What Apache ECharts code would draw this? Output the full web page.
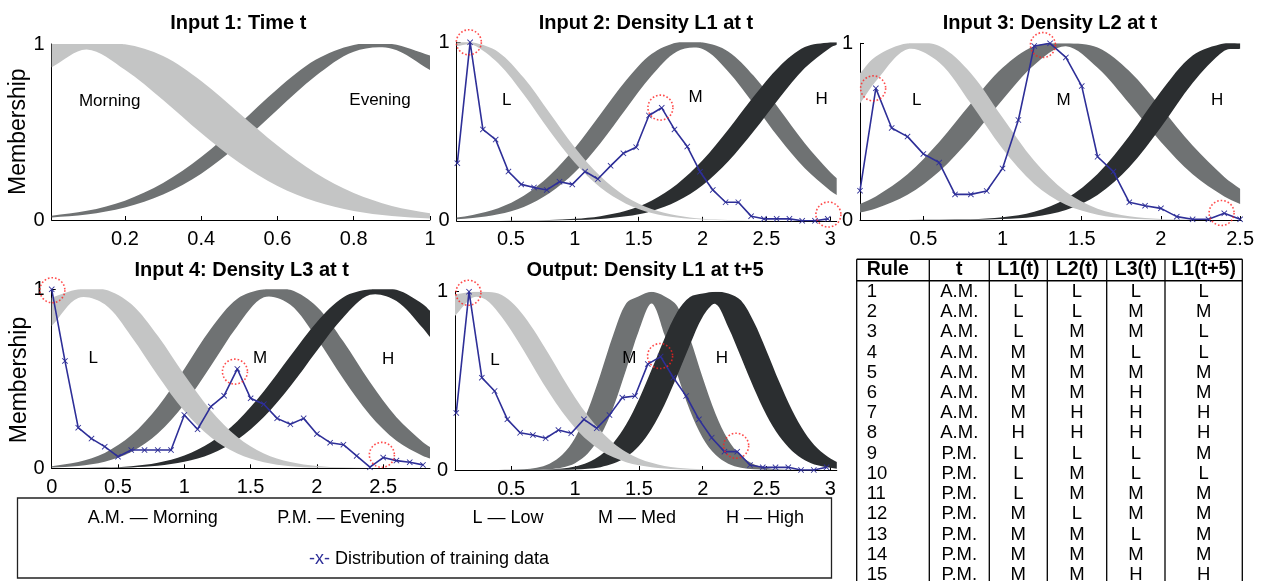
<!DOCTYPE html>
<html>
<head>
<meta charset="utf-8">
<script src="https://cdn.jsdelivr.net/npm/echarts@6/dist/echarts.min.js"></script>
<style>
  html, body { margin: 0; padding: 0; background: #fff; }
  #main { width: 1263px; height: 581px; }
</style>
</head>
<body>
<div id="main"></div>
<script>
// ---- membership bands (upper / lower edge) ----
var in1X = [0.008, 0.1, 0.2, 0.3, 0.4, 0.5, 0.6, 0.7, 0.8, 0.9, 1.0];
var in1MorningUp = [1, 1, 0.998, 0.932, 0.79, 0.607, 0.423, 0.267, 0.153, 0.08, 0.038];
var in1MorningLo = [0.868, 0.969, 0.854, 0.682, 0.494, 0.325, 0.193, 0.105, 0.051, 0.023, 0.009];
var in1EveningUp = [0.024, 0.052, 0.11, 0.21, 0.358, 0.546, 0.745, 0.91, 0.995, 1, 0.935];
var in1EveningLo = [0.014, 0.031, 0.071, 0.145, 0.263, 0.43, 0.627, 0.818, 0.956, 0.973, 0.852];

var in2X = [0.075, 0.2, 0.4, 0.6, 0.8, 1.0, 1.2, 1.4, 1.6, 1.8, 2.0, 2.2, 2.4, 2.6, 2.8, 3.0, 3.05];
var in2LUp = [1, 1, 0.946, 0.801, 0.607, 0.411, 0.249, 0.135, 0.066, 0.029, 0.011, 0.004, 0.001, 0, 0, 0, 0];
var in2LLo = [0.979, 0.986, 0.882, 0.707, 0.506, 0.325, 0.186, 0.096, 0.044, 0.018, 0.007, 0.002, 0, 0, 0, 0, 0];
var in2MUp = [0.018, 0.032, 0.07, 0.14, 0.252, 0.408, 0.597, 0.786, 0.934, 0.999, 1, 0.949, 0.812, 0.626, 0.435, 0.272, 0.238];
var in2MLo = [0.008, 0.015, 0.036, 0.078, 0.154, 0.272, 0.435, 0.626, 0.812, 0.949, 0.963, 0.837, 0.655, 0.462, 0.294, 0.169, 0.144];
var in2HUp = [0, 0, 0, 0.001, 0.004, 0.011, 0.026, 0.056, 0.113, 0.205, 0.339, 0.51, 0.696, 0.863, 0.973, 1, 1];
var in2HLo = [0, 0, 0, 0, 0.001, 0.004, 0.01, 0.025, 0.054, 0.109, 0.199, 0.332, 0.501, 0.687, 0.856, 0.97, 0.986];

var in3X = [0.1, 0.2, 0.4, 0.6, 0.8, 1.0, 1.2, 1.4, 1.6, 1.8, 2.0, 2.2, 2.4, 2.5];
var in3LUp = [0.831, 0.926, 1, 0.985, 0.831, 0.58, 0.335, 0.16, 0.064, 0.021, 0.006, 0.001, 0, 0];
var in3LLo = [0.659, 0.785, 0.967, 0.892, 0.659, 0.403, 0.204, 0.086, 0.03, 0.009, 0.002, 0, 0, 0];
var in3MUp = [0.091, 0.133, 0.259, 0.442, 0.659, 0.861, 0.983, 1, 0.976, 0.843, 0.637, 0.421, 0.244, 0.177];
var in3MLo = [0.042, 0.065, 0.143, 0.275, 0.463, 0.681, 0.877, 0.983, 0.861, 0.659, 0.442, 0.259, 0.133, 0.091];
var in3HUp = [0, 0, 0, 0.001, 0.004, 0.015, 0.046, 0.12, 0.261, 0.476, 0.727, 0.931, 1, 1];
var in3HLo = [0, 0, 0, 0, 0.001, 0.005, 0.019, 0.057, 0.142, 0.298, 0.525, 0.775, 0.958, 0.969];

var in4X = [0, 0.2, 0.4, 0.6, 0.8, 1.0, 1.2, 1.4, 1.6, 1.8, 2.0, 2.2, 2.4, 2.6, 2.8, 2.853];
var in4LUp = [0.953, 1, 0.999, 0.918, 0.74, 0.522, 0.323, 0.175, 0.083, 0.035, 0.013, 0.004, 0.001, 0, 0, 0];
var in4LLo = [0.795, 0.952, 0.916, 0.737, 0.519, 0.32, 0.173, 0.082, 0.034, 0.012, 0.004, 0.001, 0, 0, 0, 0];
var in4MUp = [0.012, 0.035, 0.086, 0.184, 0.343, 0.555, 0.779, 0.947, 1, 0.997, 0.903, 0.708, 0.482, 0.285, 0.146, 0.119];
var in4MLo = [0.004, 0.013, 0.037, 0.091, 0.194, 0.358, 0.572, 0.794, 0.955, 0.914, 0.725, 0.499, 0.298, 0.154, 0.069, 0.055];
var in4HUp = [0, 0.001, 0.004, 0.012, 0.031, 0.071, 0.145, 0.263, 0.43, 0.627, 0.818, 0.956, 1, 0.997, 0.917, 0.88];
var in4HLo = [0, 0, 0.002, 0.005, 0.014, 0.036, 0.08, 0.159, 0.286, 0.458, 0.657, 0.844, 0.969, 0.935, 0.783, 0.733];

var outX = [0.06, 0.2, 0.3, 0.4, 0.5, 0.6, 0.7, 0.8, 0.9, 1.0, 1.1, 1.2, 1.3, 1.4, 1.5, 1.6, 1.7, 1.8, 1.9, 2.0,
            2.1, 2.2, 2.3, 2.4, 2.5, 2.6, 2.7, 2.8, 2.9, 3.0, 3.05];
var outLUp = [0.984, 1, 1, 0.99, 0.944, 0.864, 0.76, 0.643, 0.522, 0.407, 0.305, 0.22, 0.152, 0.101, 0.065, 0.04, 0.023, 0.013, 0.007, 0.004,
              0.002, 0.001, 0, 0, 0, 0, 0, 0, 0, 0, 0];
var outLLo = [0.864, 0.967, 0.956, 0.882, 0.783, 0.667, 0.546, 0.43, 0.325, 0.236, 0.165, 0.11, 0.071, 0.044, 0.026, 0.015, 0.008, 0.004, 0.002, 0.001,
              0, 0, 0, 0, 0, 0, 0, 0, 0, 0, 0];
var outMUp = [0, 0, 0, 0, 0.001, 0.004, 0.012, 0.035, 0.085, 0.18, 0.334, 0.539, 0.76, 0.934, 0.975, 1, 0.975, 0.92, 0.739, 0.517,
              0.316, 0.168, 0.078, 0.032, 0.011, 0.003, 0.001, 0, 0, 0, 0];
var outMLo = [0, 0, 0, 0, 0, 0, 0.001, 0.004, 0.014, 0.038, 0.092, 0.193, 0.352, 0.562, 0.781, 0.934, 0.76, 0.539, 0.334, 0.18,
              0.085, 0.035, 0.012, 0.004, 0.001, 0, 0, 0, 0, 0, 0];
var outHUp = [0, 0, 0, 0, 0, 0, 0.001, 0.003, 0.008, 0.019, 0.042, 0.083, 0.152, 0.255, 0.395, 0.563, 0.736, 0.886, 0.97, 0.99,
              1, 0.99, 0.95, 0.831, 0.668, 0.493, 0.335, 0.209, 0.12, 0.064, 0.045];
var outHLo = [0, 0, 0, 0, 0, 0, 0, 0, 0.001, 0.003, 0.007, 0.016, 0.036, 0.073, 0.135, 0.232, 0.365, 0.528, 0.702, 0.859,
              0.931, 0.801, 0.633, 0.46, 0.307, 0.189, 0.107, 0.055, 0.026, 0.012, 0.007];

// ---- distribution of training data ----
var in2TrainX = [0.08, 0.18, 0.28, 0.38, 0.48, 0.58, 0.68, 0.78, 0.88, 0.98, 1.08, 1.18, 1.28, 1.38, 1.48,
                 1.58, 1.68, 1.78, 1.88, 1.98, 2.08, 2.18, 2.28, 2.38, 2.48, 2.58, 2.68, 2.78, 2.88, 2.98];
var in2TrainY = [0.323, 1.0, 0.512, 0.455, 0.276, 0.204, 0.187, 0.173, 0.219, 0.204, 0.276, 0.234, 0.308, 0.378, 0.412,
                 0.59, 0.633, 0.512, 0.416, 0.275, 0.173, 0.104, 0.104, 0.026, 0.011, 0.011, 0.011, 0, 0, 0.011];
var in3TrainX = [0.1, 0.2, 0.3, 0.4, 0.5, 0.6, 0.7, 0.8, 0.9, 1.0, 1.1, 1.2, 1.3, 1.4, 1.5, 1.6, 1.7, 1.8, 1.9, 2.0,
                 2.1, 2.2, 2.3, 2.4, 2.5];
var in3TrainY = [0.166, 0.745, 0.521, 0.472, 0.374, 0.325, 0.145, 0.145, 0.164, 0.292, 0.566, 0.985, 1.0, 0.92, 0.758,
                 0.358, 0.274, 0.1, 0.081, 0.066, 0.019, 0.004, 0.004, 0.038, 0.004];
var in4TrainX = [0, 0.1, 0.2, 0.3, 0.4, 0.5, 0.6, 0.7, 0.8, 0.9, 1.0, 1.1, 1.2, 1.3, 1.4, 1.5, 1.6, 1.7, 1.8, 1.9,
                 2.0, 2.1, 2.2, 2.3, 2.4, 2.5, 2.6, 2.7, 2.8];
var in4TrainY = [1.0, 0.6, 0.227, 0.166, 0.121, 0.065, 0.102, 0.102, 0.102, 0.102, 0.298, 0.218, 0.345, 0.406, 0.555,
                 0.391, 0.358, 0.279, 0.246, 0.279, 0.192, 0.143, 0.132, 0.069, 0.006, 0.06, 0.043, 0.034, 0.019];
var outTrainX = [0.07, 0.17, 0.27, 0.37, 0.47, 0.57, 0.67, 0.77, 0.87, 0.97, 1.07, 1.17, 1.27, 1.37, 1.47,
                 1.57, 1.67, 1.77, 1.87, 1.97, 2.07, 2.17, 2.27, 2.37, 2.47, 2.57, 2.67, 2.77, 2.87, 2.97];
var outTrainY = [0.32, 1.0, 0.518, 0.443, 0.284, 0.209, 0.196, 0.178, 0.224, 0.206, 0.284, 0.234, 0.308, 0.406, 0.415,
                 0.594, 0.636, 0.518, 0.415, 0.284, 0.181, 0.103, 0.103, 0.028, 0.015, 0.015, 0.015, 0, 0, 0.015];

// red dotted circles (centre x, y)
var in2Circles = [[0.17, 1.0], [1.67, 0.634], [2.985, 0.035]];
var in3Circles = [[0.183, 0.745], [1.255, 0.99], [2.383, 0.04]];
var in4Circles = [[0.005, 0.995], [1.382, 0.54], [2.49, 0.075]];
var outCircles = [[0.165, 0.994], [1.666, 0.639], [2.262, 0.136]];

// in-plot set names
var in1Names = [['Morning', 0.16, 0.672], ['Evening', 0.869, 0.68]];
var in2Names = [['L', 0.466, 0.675], ['M', 1.946, 0.69], ['H', 2.933, 0.68]];
var in3Names = [['L', 0.458, 0.68], ['M', 1.385, 0.68], ['H', 2.355, 0.68]];
var in4Names = [['L', 0.314, 0.615], ['M', 1.571, 0.615], ['H', 2.538, 0.609]];
var outNames = [['L', 0.374, 0.617], ['M', 1.426, 0.626], ['H', 2.15, 0.626]];

// rule base
var ruleNo = ['1', '2', '3', '4', '5', '6', '7', '8', '9', '10', '11', '12', '13', '14', '15'];
var ruleT = ['A.M.', 'A.M.', 'A.M.', 'A.M.', 'A.M.', 'A.M.', 'A.M.', 'A.M.', 'P.M.', 'P.M.', 'P.M.', 'P.M.', 'P.M.', 'P.M.', 'P.M.'];
var ruleL1 = ['L', 'L', 'L', 'M', 'M', 'M', 'M', 'H', 'L', 'L', 'L', 'M', 'M', 'M', 'M'];
var ruleL2 = ['L', 'L', 'M', 'M', 'M', 'M', 'H', 'H', 'L', 'M', 'M', 'L', 'M', 'M', 'M'];
var ruleL3 = ['L', 'M', 'M', 'L', 'M', 'H', 'H', 'H', 'L', 'L', 'M', 'M', 'L', 'M', 'H'];
var ruleOut = ['L', 'M', 'L', 'L', 'M', 'M', 'H', 'H', 'M', 'L', 'M', 'M', 'M', 'M', 'H'];
var ruleHead = ['Rule', 't', 'L1(t)', 'L2(t)', 'L3(t)', 'L1(t+5)'];

var legendItems = ['A.M. \u2014 Morning', 'P.M. \u2014 Evening', 'L \u2014 Low', 'M \u2014 Med', 'H \u2014 High'];

// ---- styling ----
var LIGHT = '#c4c5c5', MID = '#6f7273', DARK = '#2b2e30', BLUE = '#2e2f98', RED = '#ff1f1f';
var FONT = "'Liberation Sans', Arial, Helvetica, sans-serif";
var XSYM = 'path://M1,0L5,4L9,0L10,1L6,5L10,9L9,10L5,6L1,10L0,9L4,5L0,1Z';

var grids = [
  { left: 51.7, top: 44, width: 378.3, height: 176 },
  { left: 456.7, top: 42.3, width: 380, height: 178.5 },
  { left: 860, top: 43.3, width: 381.7, height: 176.7 },
  { left: 51.7, top: 289.3, width: 378.3, height: 179 },
  { left: 455, top: 291.7, width: 381.8, height: 178.3 }
];
var xRange = [[0.008, 1], [0.075, 3.05], [0.1, 2.51], [0, 2.853], [0.06, 3.05]];
var xTicks = [[0.2, 0.4, 0.6, 0.8, 1], [0.5, 1, 1.5, 2, 2.5, 3], [0.5, 1, 1.5, 2, 2.5],
              [0, 0.5, 1, 1.5, 2, 2.5], [0.5, 1, 1.5, 2, 2.5, 3]];

// bands listed bottom to top: M under H, L on top
var panels = [
  { x: in1X, bands: [[in1EveningUp, in1EveningLo, MID], [in1MorningUp, in1MorningLo, LIGHT]], names: in1Names },
  { x: in2X, bands: [[in2MUp, in2MLo, MID], [in2HUp, in2HLo, DARK], [in2LUp, in2LLo, LIGHT]],
    tx: in2TrainX, ty: in2TrainY, circles: in2Circles, names: in2Names },
  { x: in3X, bands: [[in3MUp, in3MLo, MID], [in3HUp, in3HLo, DARK], [in3LUp, in3LLo, LIGHT]],
    tx: in3TrainX, ty: in3TrainY, circles: in3Circles, names: in3Names },
  { x: in4X, bands: [[in4MUp, in4MLo, MID], [in4HUp, in4HLo, DARK], [in4LUp, in4LLo, LIGHT]],
    tx: in4TrainX, ty: in4TrainY, circles: in4Circles, names: in4Names },
  { x: outX, bands: [[outMUp, outMLo, MID], [outHUp, outHLo, DARK], [outLUp, outLLo, LIGHT]],
    tx: outTrainX, ty: outTrainY, circles: outCircles, names: outNames }
];

function bandSeries(gi, xs, up, lo, color, z) {
  return {
    type: 'custom', xAxisIndex: gi, yAxisIndex: gi, z: z, silent: true, clip: true,
    data: [[xs[0], lo[0]]],
    renderItem: function (params, api) {
      var n = xs.length, pts = [];
      var first = api.coord([xs[0], up[0]]);
      pts.push(first, first);
      for (var i = 1; i < n; i++) pts.push(api.coord([xs[i], up[i]]));
      pts.push(api.coord([xs[n - 1], up[n - 1]]));
      var last = api.coord([xs[n - 1], lo[n - 1]]);
      pts.push(last, last);
      for (var j = n - 2; j >= 0; j--) pts.push(api.coord([xs[j], lo[j]]));
      pts.push(api.coord([xs[0], lo[0]]));
      return { type: 'polygon', shape: { points: pts, smooth: 0.33 }, style: { fill: color } };
    }
  };
}

var series = [];
panels.forEach(function (p, gi) {
  p.bands.forEach(function (b, k) {
    series.push(bandSeries(gi, p.x, b[0], b[1], b[2], 1 + k));
  });
  if (p.tx) {
    series.push({
      type: 'line', xAxisIndex: gi, yAxisIndex: gi, z: 6, silent: true,
      data: p.tx.map(function (x, k) { return [x, p.ty[k]]; }),
      symbol: XSYM, symbolSize: 6, showSymbol: true,
      lineStyle: { color: BLUE, width: 1.6 },
      itemStyle: { color: BLUE }
    });
    series.push({
      type: 'scatter', xAxisIndex: gi, yAxisIndex: gi, z: 7, silent: true,
      data: p.circles, symbol: 'circle', symbolSize: 25,
      itemStyle: { color: 'rgba(0,0,0,0)', borderColor: RED, borderWidth: 1.6, borderType: [1.6, 2] }
    });
  }
  series.push({
    type: 'scatter', xAxisIndex: gi, yAxisIndex: gi, z: 8, silent: true,
    symbolSize: 1, itemStyle: { color: 'rgba(0,0,0,0)' },
    data: p.names.map(function (d) { return { name: d[0], value: [d[1], d[2]] }; }),
    label: {
      show: true, position: 'inside', formatter: '{b}', color: '#000', fontSize: 17, fontFamily: FONT,
      textBorderWidth: 0, textBorderColor: 'transparent', opacity: 1
    }
  });
});

var xAxes = grids.map(function (g, i) {
  return {
    type: 'value', gridIndex: i, min: xRange[i][0], max: xRange[i][1],
    axisLine: { show: true, onZero: false, lineStyle: { color: '#000', width: 1 } },
    axisTick: { show: true, inside: true, length: 4, customValues: xTicks[i], lineStyle: { color: '#000' } },
    axisLabel: { show: true, customValues: xTicks[i], fontSize: 20, color: '#000', fontFamily: FONT, margin: 9 },
    splitLine: { show: false }
  };
});
var yAxes = grids.map(function (g, i) {
  return {
    type: 'value', gridIndex: i, min: 0, max: 1,
    axisLine: { show: true, onZero: false, lineStyle: { color: '#000', width: 1 } },
    axisTick: { show: true, inside: true, length: 4, customValues: [0, 1], lineStyle: { color: '#000' } },
    axisLabel: { show: true, customValues: [0, 1], fontSize: 20, color: '#000', fontFamily: FONT, margin: 7 },
    splitLine: { show: false }
  };
});

// ---- titles, axis names, legend box, rule table ----
var graphics = [];
function text(x, y, s, o) {
  o = o || {};
  graphics.push({
    type: 'text', x: x, y: y, rotation: o.rot || 0, z: 20, silent: true,
    style: {
      text: s, fill: o.color || '#000', fontSize: o.size || 20, fontWeight: o.bold ? 'bold' : 'normal',
      fontFamily: FONT, align: o.align || 'center', verticalAlign: 'middle', rich: o.rich
    }
  });
}
function line(x1, y1, x2, y2, w) {
  graphics.push({ type: 'line', z: 20, silent: true, shape: { x1: x1, y1: y1, x2: x2, y2: y2 },
    style: { stroke: '#000', lineWidth: w || 1.2 } });
}

text(238.3, 23.5, 'Input 1: Time t', { bold: true });
text(646, 23.5, 'Input 2: Density L1 at t', { bold: true });
text(1050, 23.5, 'Input 3: Density L2 at t', { bold: true });
text(241.7, 270, 'Input 4: Density L3 at t', { bold: true });
text(645, 270.5, 'Output: Density L1 at t+5', { bold: true });
text(18.3, 131.7, 'Membership', { size: 23, rot: Math.PI / 2 });
text(20, 380, 'Membership', { size: 23, rot: Math.PI / 2 });

// legend box
graphics.push({ type: 'rect', z: 19, silent: true, shape: { x: 17.5, y: 498, width: 814, height: 80 },
  style: { fill: '#fff', stroke: '#222', lineWidth: 1.3 } });
var legendCx = [152.7, 341, 508, 637, 765];
legendItems.forEach(function (s, i) { text(legendCx[i], 518, s, { size: 18 }); });
text(429, 559, '{b|-x-} Distribution of training data', {
  size: 18, rich: { b: { fill: BLUE, fontSize: 18, fontFamily: FONT } }
});

// rule table
var colX = [856.7, 929.3, 989.3, 1047.3, 1106.7, 1165, 1242.3];
var tTop = 259.3, tHead = 280.7, tBottom = 581, rowH = 20.24, row0 = 291.7;
line(colX[0], tTop, colX[6], tTop, 1.4);
line(colX[0], tHead, colX[6], tHead, 1.4);
colX.forEach(function (cx) { line(cx, tTop, cx, tBottom, 1.3); });
ruleHead.forEach(function (h, c) {
  if (c === 0) text(866.7, 270, h, { size: 19.5, bold: true, align: 'left' });
  else text((colX[c] + colX[c + 1]) / 2, 270, h, { size: 19.5, bold: true });
});
var cols = [ruleT, ruleL1, ruleL2, ruleL3, ruleOut];
ruleNo.forEach(function (r, i) {
  var y = row0 + i * rowH;
  text(866.7, y, r, { size: 18.5, align: 'left' });
  cols.forEach(function (col, c) {
    text((colX[c + 1] + colX[c + 2]) / 2, y, col[i], { size: 18.5 });
  });
});

var chart = echarts.init(document.getElementById('main'), null, { renderer: 'canvas' });
chart.setOption({
  animation: false,
  backgroundColor: '#fff',
  grid: grids,
  xAxis: xAxes,
  yAxis: yAxes,
  series: series,
  graphic: graphics
});
</script>
</body>
</html>
